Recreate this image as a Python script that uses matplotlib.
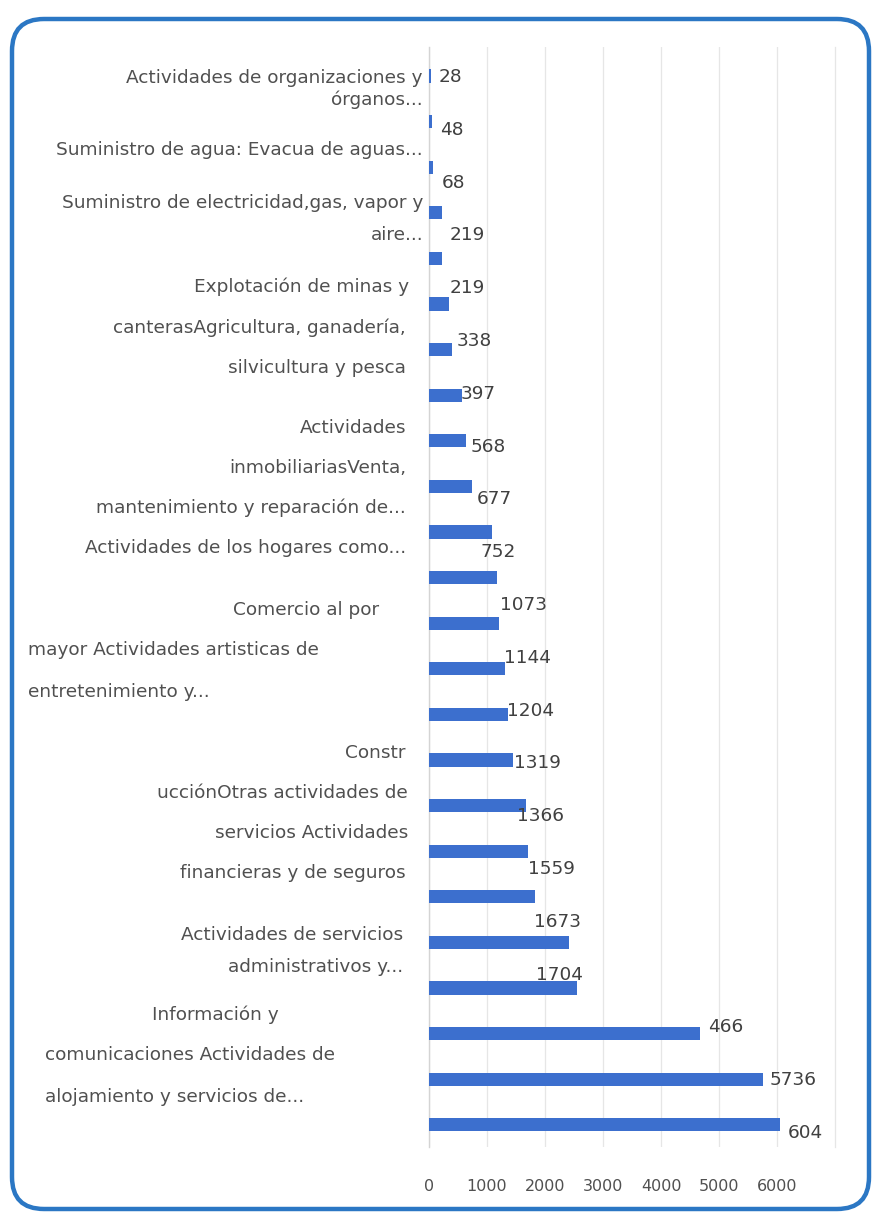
import matplotlib
matplotlib.use("Agg")
import matplotlib.pyplot as plt
from matplotlib.patches import FancyBboxPatch

# ---------------- data ----------------
# bar lengths, top to bottom
bar_values = [28, 48, 68, 219, 219, 338, 397, 568, 640, 740, 1080, 1165,
              1210, 1310, 1360, 1450, 1670, 1710, 1830, 2410, 2550, 4670,
              5760, 6050]
# data labels as printed (top to bottom) and the value they stand for
label_texts = ['28', '48', '68', '219', '219', '338', '397', '568', '677',
               '752', '1073', '1144', '1204', '1319', '1366', '1559', '1673',
               '1704', '466', '5736', '604']
label_values = [28, 48, 68, 219, 219, 338, 397, 568, 677, 752, 1073, 1144,
                1204, 1319, 1366, 1559, 1673, 1704, 4660, 5736, 6040]
# wrapped category text lines as they appear on the left
category_lines = [
    "Actividades de organizaciones y",
    "órganos...",
    "Suministro de agua: Evacua de aguas...",
    "Suministro de electricidad,gas, vapor y",
    "aire...",
    "Explotación de minas y",
    "canterasAgricultura, ganadería,",
    "silvicultura y pesca",
    "Actividades",
    "inmobiliariasVenta,",
    "mantenimiento y reparación de...",
    "Actividades de los hogares como...",
    "Comercio al por",
    "mayor Actividades artisticas de",
    "entretenimiento y...",
    "Constr",
    "ucciónOtras actividades de",
    "servicios Actividades",
    "financieras y de seguros",
    "Actividades de servicios",
    "administrativos y...",
    "Información y",
    "comunicaciones Actividades de",
    "alojamiento y servicios de...",
]
x_ticks = [0, 1000, 2000, 3000, 4000, 5000, 6000]

# ---------------- layout (pixels) ----------------
W, H = 873, 1212
# (y, x, ha) for each category line
line_layout = [
    (78, 423, 'right'), (100, 423, 'right'), (150, 423, 'right'),
    (203, 423, 'right'), (235, 423, 'right'), (287, 409, 'right'),
    (328, 406, 'right'), (368, 406, 'right'), (428, 406, 'right'),
    (468, 406, 'right'), (508, 406, 'right'), (548, 406, 'right'),
    (610, 379, 'right'), (650, 28, 'left'), (692, 28, 'left'),
    (753, 406, 'right'), (793, 408, 'right'), (833, 408, 'right'),
    (873, 406, 'right'), (935, 403, 'right'), (967, 403, 'right'),
    (1015, 215, 'center'), (1055, 45, 'left'), (1097, 45, 'left'),
]

TXT = '#505050'
BAR = '#3C6FCE'

fig = plt.figure(figsize=(W / 100, H / 100), dpi=100)
fig.patch.set_facecolor('white')

# background axes in pixel coordinates for the frame and category text
bg = fig.add_axes([0, 0, 1, 1], zorder=0)
bg.set_xlim(0, W)
bg.set_ylim(H, 0)
bg.axis('off')
frame = FancyBboxPatch((12, 19), 857, 1190,
                       boxstyle='round,pad=0,rounding_size=32',
                       facecolor='white', edgecolor='#2B77C4', linewidth=3.2)
bg.add_patch(frame)
for text, (yy, xx, ha) in zip(category_lines, line_layout):
    bg.text(xx, yy, text, ha=ha, va='center', fontsize=13.3, color=TXT,
            family='DejaVu Sans')

# plot area: x 429..835 px, y 47..1147 px
left, right, top, bottom = 429, 835, 47, 1147
ax = fig.add_axes([left / W, 1 - bottom / H, (right - left) / W,
                   (bottom - top) / H], zorder=2)
ax.patch.set_alpha(0)

n_bars = len(bar_values)
first_bar_px, bar_step_px = 76, 45.6
positions = list(range(n_bars))
ax.barh(positions, bar_values, height=0.29, color=BAR, edgecolor='none',
        zorder=3)
ax.set_ylim((bottom - first_bar_px) / bar_step_px,
            -(first_bar_px - top) / bar_step_px)
ax.set_xlim(0, 7000)
ax.set_xticks(x_ticks)
ax.set_xticklabels([str(t) for t in x_ticks], fontsize=11.5, color=TXT)
ax.set_yticks([])
ax.tick_params(axis='x', length=0, pad=23)
ax.grid(axis='x', color='#E6E6E6', linewidth=0.9, zorder=0)
for side in ['top', 'bottom']:
    ax.spines[side].set_visible(False)
ax.spines['left'].set_color('#D4D4D4')
ax.spines['right'].set_color('#E6E6E6')
ax.spines['left'].set_linewidth(1.0)
ax.spines['right'].set_linewidth(0.9)

# data labels on their own evenly spaced slots
ax2 = ax.twinx()
ax2.set_zorder(4)
ax2.patch.set_alpha(0)
first_lab_px, lab_step_px = 77, 52.8
ax2.set_ylim((bottom - first_lab_px) / lab_step_px,
             -(first_lab_px - top) / lab_step_px)
ax2.set_yticks([])
for s in ax2.spines.values():
    s.set_visible(False)
for j, (txt, val) in enumerate(zip(label_texts, label_values)):
    ax2.annotate(txt, xy=(val, j), xytext=(6, 0), textcoords='offset points',
                 ha='left', va='center', fontsize=13.3, color='#404040')

fig.savefig('out.png', dpi=100, facecolor='white')
